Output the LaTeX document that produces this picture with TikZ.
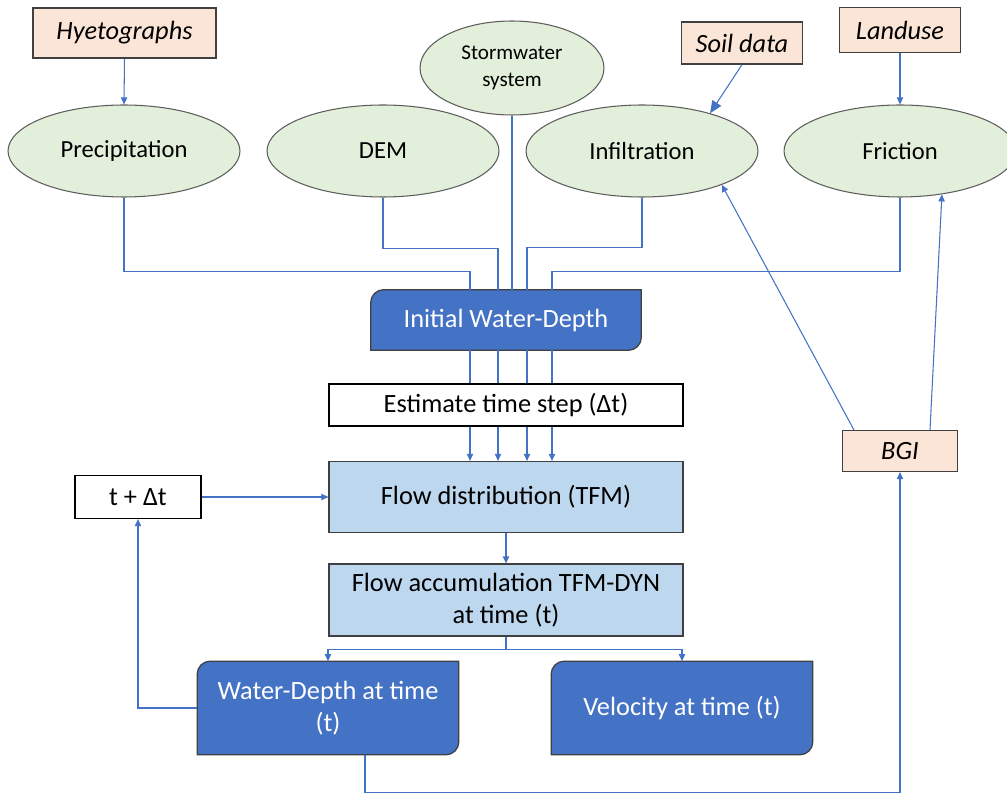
\documentclass[tikz,border=0pt]{standalone}
\usepackage{fontspec}
\setmainfont{Carlito}
\usetikzlibrary{arrows.meta,calc,backgrounds,shapes.geometric}
\definecolor{dkblue}{HTML}{4472C4}
\definecolor{ltblue}{HTML}{BDD7EE}
\definecolor{peach}{HTML}{FBE5D6}
\definecolor{ltgreen}{HTML}{E2EFDA}
\definecolor{edge}{HTML}{404040}
\tikzset{
  datain/.style={draw=edge, fill=peach, line width=0.7pt, inner sep=0pt, font=\fontsize{15}{18}\selectfont\itshape},
  param/.style={ellipse, draw=edge!85, fill=ltgreen, line width=0.6pt, minimum width=4.64cm, minimum height=1.84cm, inner sep=0pt, font=\fontsize{14}{17}\selectfont},
  process/.style={draw=edge, fill=ltblue, line width=0.7pt, minimum width=7.08cm, inner sep=0pt, align=center, font=\fontsize{15}{18}\selectfont},
  plain/.style={draw=black, fill=white, line width=0.7pt, inner sep=0pt, font=\fontsize{15}{18}\selectfont},
  result/.style={text=white, minimum width=5.22cm, minimum height=1.86cm, inner sep=0pt, align=center, font=\fontsize{15}{18}\selectfont},
  link/.style={draw=dkblue, line width=0.6pt},
  arr/.style={link, -{Triangle[length=4pt,width=3.6pt]}}
}
% box with two rounded corners (top left, bottom right)
\newcommand{\tabbox}[1]{%
  \filldraw[fill=dkblue, draw=edge, line width=0.7pt] (#1.south west)
    -- ($(#1.north west)+(0,13)$) arc[start angle=180, end angle=90, radius=0.26cm]
    -- (#1.north east)
    -- ($(#1.south east)+(0,-13)$) arc[start angle=0, end angle=-90, radius=0.26cm]
    -- cycle;}
\begin{document}
\begin{tikzpicture}[x = 0.02cm, y = -0.02cm]
\useasboundingbox (0,0) rectangle (1007,793);
% inputs
\node[datain, minimum width=3.66cm, minimum height=1cm] (hyeto) at (124.5,33) {Hyetographs};
\node[datain, minimum width=2.42cm, minimum height=0.84cm] (soil) at (742,43) {Soil data};
\node[datain, minimum width=2.42cm, minimum height=0.9cm] (landuse) at (900,30) {Landuse};
\node[datain, minimum width=2.3cm, minimum height=0.82cm] (bgi) at (900,451) {BGI};
% parameters
\node[param, minimum width=3.68cm, minimum height=1.88cm, align=center, font=\fontsize{12}{15}\selectfont] (storm) at (512,68) {Stormwater\\system};
\node[param] (prec) at (124,151) {Precipitation};
\node[param] (dem) at (383,151) {DEM};
\node[param] (infil) at (642,151) {Infiltration};
\node[param] (fric) at (900,151) {Friction};
% model steps
\node[result, minimum width=5.4cm, minimum height=1.2cm] (init) at (506,320) {Initial Water-Depth};
\node[plain, minimum width=7.08cm, minimum height=0.84cm] (est) at (506,405) {Estimate time step (Δt)};
\node[process, minimum height=1.42cm] (flowd) at (506,497) {Flow distribution (TFM)};
\node[process, minimum height=1.44cm] (flowa) at (506,600) {Flow accumulation TFM-DYN\\at time (t)};
\node[plain, minimum width=2.52cm, minimum height=0.86cm] (tdt) at (138,497) {t + Δt};
\node[result] (wd) at (328,708) {Water-Depth at time\\(t)};
\node[result] (vel) at (682,708) {Velocity at time (t)};
\begin{scope}[on background layer]
  \tabbox{init}
  \tabbox{wd}
  \tabbox{vel}
\end{scope}
% inputs to parameters
\draw[arr] (hyeto.south) -- (prec.north);
\draw[arr, -{Triangle[length=7pt,width=6pt]}] (soil.south) -- (infil.29);
\draw[arr] (landuse.south) -- (fric.north);
\draw[arr] ($(bgi.north west)+(12,0)$) -- (infil.-23);
\draw[arr] ($(bgi.north)+(30,0)$) -- (fric.-46);
% parameters to initial depth
\draw[link] (prec.south) -- ++(0,74) -| ($(init.north)+(-36,0)$);
\draw[link] (dem.south) -- ++(0,51) -| ($(init.north)+(-8,0)$);
\draw[link] (storm.south) -- (storm.south |- init.north);
\draw[link] (infil.south) -- ++(0,50) -| ($(init.north)+(21,0)$);
\draw[link] (fric.south) -- ++(0,74) -| ($(init.north)+(46,0)$);
\foreach \dx in {-36,-8,21,46} {
  \draw[link] ($(init.south)+(\dx,0)$) -- ($(est.north)+(\dx,0)$);
  \draw[arr] ($(est.south)+(\dx,0)$) -- ($(flowd.north)+(\dx,0)$);
}
% time loop
\draw[arr] (flowd.south) -- (flowa.north);
\draw[arr] (flowa.south) -- ++(0,13) -| (wd.north);
\draw[arr] (flowa.south) -- ++(0,13) -| (vel.north);
\draw[arr] (wd.west) -| (tdt.south);
\draw[arr] (tdt.east) -- (flowd.west);
\draw[arr] ($(wd.south)+(37,0)$) -- ++(0,38) -| (bgi.south);
\end{tikzpicture}
\end{document}
